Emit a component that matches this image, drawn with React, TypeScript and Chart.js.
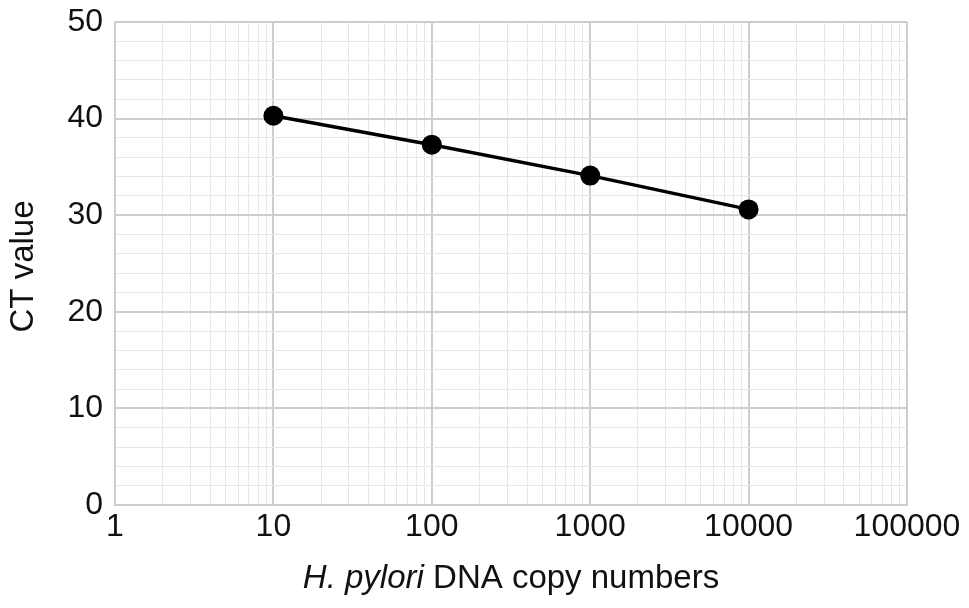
import React, { useEffect, useRef } from "react";
import { Chart, registerables } from "chart.js";

Chart.register(...registerables);

// ---- data ----
const copyNumbers = [10, 100, 1000, 10000];
const ctValues = [40.3, 37.3, 34.1, 30.6];

// ---- axis ticks ----
const xMajorTicks = [1, 10, 100, 1000, 10000, 100000];
const xMinorMultipliers = [2, 3, 4, 5, 6, 7, 8, 9];
const yMajorTicks = [0, 10, 20, 30, 40, 50];
const yMin = 0;
const yMax = 50;
const yMinorStep = 2;

const xTitleItalic = "H. pylori";
const xTitleRest = " DNA copy numbers";
const yTitle = "CT value";

const FONT = '"Liberation Sans", Arial, Helvetica, sans-serif';
const TEXT = "#111111";
const MAJOR_GRID = "#cdcdcd";
const MINOR_GRID = "#e7e7e7";

const xGridValues: number[] = [];
xMajorTicks.forEach((m, i) => {
  xGridValues.push(m);
  if (i < xMajorTicks.length - 1) xMinorMultipliers.forEach((k) => xGridValues.push(m * k));
});

const titlesPlugin = {
  id: "customTitles",
  afterDraw(chart: any) {
    const { ctx, chartArea } = chart;
    ctx.save();
    ctx.fillStyle = TEXT;
    ctx.textBaseline = "alphabetic";
    const size = 33;
    ctx.font = `italic ${size}px ${FONT}`;
    const w1 = ctx.measureText(xTitleItalic).width;
    ctx.font = `${size}px ${FONT}`;
    const w2 = ctx.measureText(xTitleRest).width;
    const cx = (chartArea.left + chartArea.right) / 2;
    const sx = cx - (w1 + w2) / 2;
    const by = chartArea.bottom + 83;
    ctx.textAlign = "left";
    ctx.font = `italic ${size}px ${FONT}`;
    ctx.fillText(xTitleItalic, sx, by);
    ctx.font = `${size}px ${FONT}`;
    ctx.fillText(xTitleRest, sx + w1, by);

    ctx.translate(chartArea.left - 82, (chartArea.top + chartArea.bottom) / 2 + 3);
    ctx.rotate(-Math.PI / 2);
    ctx.textAlign = "center";
    ctx.fillText(yTitle, 0, 0);
    ctx.restore();
  },
};

export default function App() {
  const ref = useRef<HTMLCanvasElement | null>(null);
  useEffect(() => {
    if (!ref.current) return;
    const chart = new Chart(ref.current, {
      type: "line",
      data: {
        datasets: [
          {
            data: copyNumbers.map((x, i) => ({ x, y: ctValues[i] })),
            borderColor: "#000",
            backgroundColor: "#000",
            borderWidth: 3.5,
            pointRadius: 10,
            pointBackgroundColor: "#000",
            pointBorderColor: "#000",
            pointBorderWidth: 0,
            fill: false,
            tension: 0,
          },
        ],
      },
      options: {
        animation: false,
        responsive: false,
        layout: { padding: { top: 22, right: 62, left: 0, bottom: 0 } },
        plugins: { legend: { display: false }, tooltip: { enabled: false }, title: { display: false } },
        scales: {
          x: {
            type: "logarithmic",
            min: 1,
            max: 100000,
            afterBuildTicks: (scale: any) => {
              scale.ticks = xGridValues.map((v) => ({ value: v }));
            },
            afterFit: (scale: any) => {
              scale.height = 103;
              scale.paddingLeft = 0;
              scale.paddingRight = 0;
            },
            ticks: {
              autoSkip: false,
              maxRotation: 0,
              minRotation: 0,
              padding: 3,
              color: TEXT,
              font: { family: FONT, size: 32 },
              callback: (v: any) => (xMajorTicks.includes(Number(v)) ? String(v) : ""),
            },
            grid: {
              drawTicks: false,
              color: (c: any) => (c.tick && xMajorTicks.includes(c.tick.value) ? MAJOR_GRID : MINOR_GRID),
              lineWidth: (c: any) => (c.tick && xMajorTicks.includes(c.tick.value) ? 2 : 1),
            },
            border: { display: true, color: MAJOR_GRID, width: 2 },
          },
          y: {
            type: "linear",
            min: yMin,
            max: yMax,
            afterFit: (scale: any) => {
              scale.width = 115;
              scale.paddingTop = 0;
              scale.paddingBottom = 0;
            },
            ticks: {
              stepSize: yMinorStep,
              autoSkip: false,
              padding: 12,
              color: TEXT,
              font: { family: FONT, size: 32 },
              callback: (v: any) => (yMajorTicks.includes(Number(v)) ? String(v) : ""),
            },
            grid: {
              drawTicks: false,
              color: (c: any) => (c.tick && yMajorTicks.includes(c.tick.value) ? MAJOR_GRID : MINOR_GRID),
              lineWidth: (c: any) => (c.tick && yMajorTicks.includes(c.tick.value) ? 2 : 1),
            },
            border: { display: true, color: MAJOR_GRID, width: 2 },
          },
        },
      },
      plugins: [titlesPlugin],
    });
    return () => chart.destroy();
  }, []);
  return (
    <div style={{ position: "absolute", left: 0, top: 0, width: 969, height: 608, background: "#fff" }}>
      <canvas ref={ref} width={969} height={608} style={{ display: "block" }} />
    </div>
  );
}
